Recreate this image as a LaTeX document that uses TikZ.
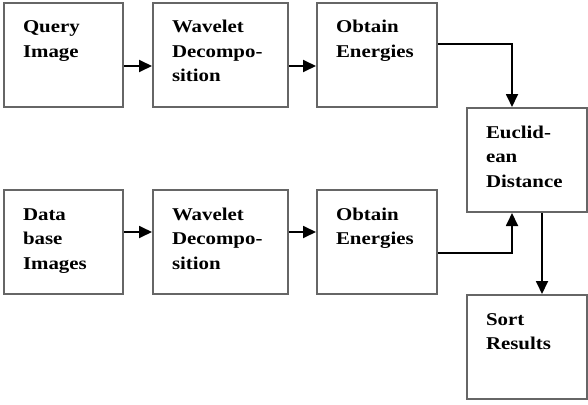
\documentclass[tikz,border=0pt]{standalone}
\usepackage{fontspec}
\setmainfont[FakeStretch=1.16]{Liberation Serif}
\usetikzlibrary{arrows.meta}
\tikzset{
  box/.style={draw=black!60, line width=2pt, anchor=north west, inner sep=0pt,
    text height=30pt, text depth=74pt, font=\fontsize{18}{24.5}\selectfont\bfseries},
  conn/.style={line width=1.8pt, -{Triangle[length=13pt,width=12pt]}}
}
\newcommand\bxt[2]{\parbox[t]{#1}{\raggedright\leftskip=19pt\relax #2}}
\begin{document}
\begin{tikzpicture}[x=1pt,y=-1pt]
\useasboundingbox (0,0) rectangle (588,404);
\node[box] (q)  at (3,2)     {\bxt{119pt}{Query\\Image}};
\node[box] (w1) at (152,2)   {\bxt{135pt}{Wavelet\\Decompo-\\sition}};
\node[box] (e1) at (316,2)   {\bxt{120pt}{Obtain\\Energies}};
\node[box] (d)  at (466,107) {\bxt{120pt}{Euclid-\\ean\\Distance}};
\node[box] (b)  at (3,189)   {\bxt{119pt}{Data\\base\\Images}};
\node[box] (w2) at (152,189) {\bxt{135pt}{Wavelet\\Decompo-\\sition}};
\node[box] (e2) at (316,189) {\bxt{120pt}{Obtain\\Energies}};
\node[box] (s)  at (466,294) {\bxt{120pt}{Sort\\Results}};
\draw[conn] ([yshift=-11pt]q.east) -- ([yshift=-11pt]w1.west);
\draw[conn] ([yshift=-11pt]w1.east) -- ([yshift=-11pt]e1.west);
\draw[conn] ([yshift=10pt]b.east) -- ([yshift=10pt]w2.west);
\draw[conn] ([yshift=10pt]w2.east) -- ([yshift=10pt]e2.west);
\draw[conn] ([yshift=11pt]e1.east) -| ([xshift=-15pt]d.north);
\draw[conn] ([yshift=-11pt]e2.east) -| ([xshift=-15pt]d.south);
\draw[conn] ([xshift=15pt]d.south) -- ([xshift=15pt]s.north);
\end{tikzpicture}
\end{document}
